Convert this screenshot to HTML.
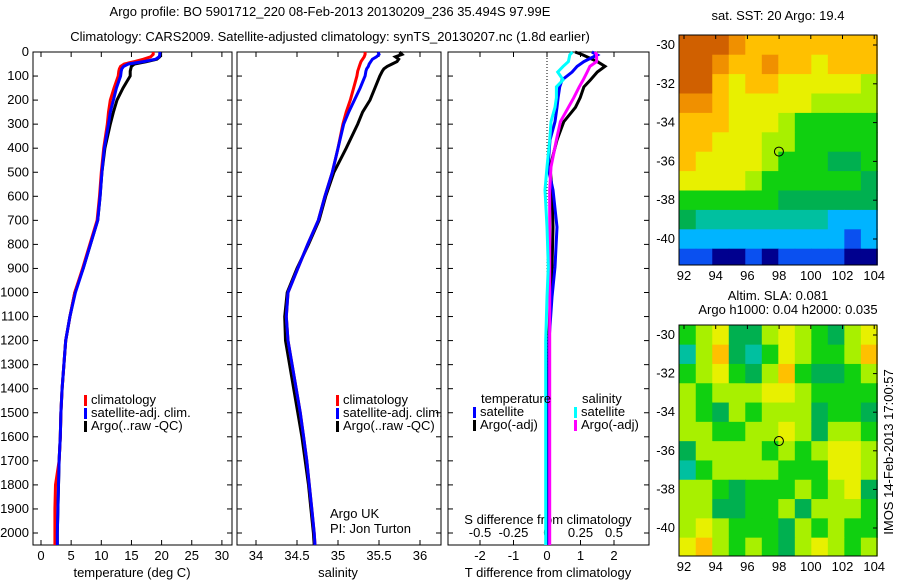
<!DOCTYPE html>
<html><head><meta charset="utf-8"><style>
body{margin:0;background:#fff;width:900px;height:580px;overflow:hidden}
svg{display:block;font-family:"Liberation Sans",sans-serif;font-size:13px}
</style></head><body>
<svg id="c" width="900" height="580" xmlns="http://www.w3.org/2000/svg">
<text x="330" y="16" text-anchor="middle">Argo profile: BO 5901712_220 08-Feb-2013 20130209_236 35.494S 97.99E</text>
<text x="330" y="41" text-anchor="middle">Climatology: CARS2009. Satellite-adjusted climatology: synTS_20130207.nc (1.8d earlier)</text>
</svg>
<script>
const depths=[0,10,20,30,40,50,60,70,80,100,150,200,250,300,400,500,600,700,800,900,1000,1100,1200,1300,1400,1500,1600,1700,1800,1900,2000,2050];
const tClim=[18.6,18.6,18.2,17,15.5,13.8,13.2,13,12.9,12.8,12.1,11.5,11.2,11,10.4,10,9.7,9.3,8.1,6.9,5.6,4.8,4.1,3.8,3.5,3.3,3.2,3.0,2.4,2.3,2.3,2.3];
const tSat=[19.7,19.7,19.6,19,17,14.5,13.7,13.4,13.3,13.2,12.5,12,11.5,11.2,10.5,10.1,9.8,9.4,8.2,7,5.7,4.8,4.1,3.8,3.5,3.3,3.2,3.0,2.9,2.8,2.7,2.7];
const tArgo=[19.8,19.8,19.7,19.2,17.5,15.5,15,14.9,14.8,14.8,13.6,12.6,12,11.5,10.6,10.1,9.8,9.4,8.2,7,5.6,4.8,4.1,3.8,3.5,3.3,3.2,3.0,2.9,2.8,2.7,2.7];
const sClim=[35.33,35.33,35.32,35.3,35.28,35.27,35.26,35.25,35.24,35.23,35.19,35.15,35.1,35.06,35.0,34.93,34.84,34.76,34.63,34.51,34.39,34.37,34.39,34.44,34.49,34.54,34.58,34.62,34.65,34.68,34.71,34.72];
const sSat=[35.49,35.5,35.47,35.42,35.4,35.38,35.37,35.35,35.34,35.33,35.27,35.2,35.13,35.07,35.0,34.93,34.84,34.76,34.63,34.51,34.39,34.37,34.39,34.44,34.49,34.54,34.58,34.62,34.65,34.68,34.71,34.72];
const sArgo=[35.75,35.78,35.7,35.74,35.72,35.66,35.6,35.56,35.54,35.51,35.45,35.39,35.3,35.24,35.1,34.95,34.85,34.77,34.64,34.5,34.38,34.35,34.36,34.41,34.46,34.51,34.56,34.6,34.64,34.67,34.7,34.71];
const dDepths=[0,12,40,60,83,116,145,190,230,290,366,478,574,728,894,1019,1200,1500,1800,2050];
const dTSat=[1.34,1.5,1.1,0.9,0.75,0.45,0.38,0.33,0.3,0.24,0.09,0.03,0.18,0.3,0.24,0.15,0.06,0.05,0.05,0.05];
const dTArgo=[0.84,1.07,1.5,1.73,1.5,1.3,1.1,0.99,0.85,0.5,0.3,0.09,0.15,0.18,0.15,0.1,0.05,0.04,0.04,0.04];
const dSSat=[0.19,0.17,0.16,0.12,0.08,0.12,0.07,0.07,0.06,0.03,0.02,0.0,-0.015,0,0.01,0,-0.01,-0.01,-0.01,-0.01];
const dSArgo=[0.36,0.37,0.37,0.32,0.3,0.27,0.24,0.2,0.16,0.1,0.07,0.03,0.02,0.02,0.02,0.02,0.02,0.02,0.02,0.02];
const depthTicks=[0,100,200,300,400,500,600,700,800,900,1000,1100,1200,1300,1400,1500,1600,1700,1800,1900,2000];
const tTicks=[0,5,10,15,20,25,30];
const sTicks=[34,34.5,35,35.5,36];
const dTTicks=[-2,-1,0,1,2];
const dSTickLabels=["-0.5","-0.25","0","0.25","0.5"];
const dSTicks=[-0.5,-0.25,0,0.25,0.5];
const latTicks=[-30,-32,-34,-36,-38,-40];
const lonTicks=[92,94,96,98,100,102,104];
const sstGrid=[
[10,10,10,9,8,8,8,8,8,8,8,8],[10,10,9,8,8,9,8,8,7,8,8,8],[10,10,8,7,8,8,7,7,7,7,7,6],
[9,9,8,7,7,7,7,7,6,6,6,6],[8,8,8,7,7,7,6,5,5,5,5,5],[8,8,7,7,7,6,6,5,5,5,5,5],
[8,7,7,7,7,6,5,5,5,4,4,5],[7,7,7,7,6,5,5,5,5,5,5,4],[5,5,5,5,5,5,4,4,4,4,4,4],
[4,3,3,3,3,3,3,3,3,2,2,2],[2,2,2,2,2,2,2,2,2,2,1,2],[1,1,0,0,1,0,1,1,1,1,0,0]];
const slaGrid=[
[5,6,7,4,4,6,7,6,5,4,6,7],[3,6,8,4,3,5,7,6,5,5,6,8],[5,6,7,5,4,6,8,5,4,4,5,6],
[6,5,6,6,6,7,7,6,5,5,5,5],[6,5,4,6,5,6,6,6,4,5,5,4],[6,6,5,5,6,6,7,6,4,6,6,5],
[4,6,6,6,6,5,6,5,6,7,7,6],[3,5,6,6,6,6,5,5,5,7,7,6],[6,6,5,4,5,5,5,6,5,6,7,4],
[6,6,4,4,5,5,6,4,6,6,6,5],[6,7,6,5,5,5,4,6,5,6,5,5],[7,8,6,5,6,5,4,6,7,6,5,6]];
const palette=["#00008f","#0a50f0","#00b4ff","#00c0a0","#00b050","#10d010","#a8f000","#e8f000","#ffc000","#f09000","#d06000"];

const svg=document.getElementById('c');const NS="http://www.w3.org/2000/svg";
function mk(t,a,p){const e=document.createElementNS(NS,t);for(const k in a)e.setAttribute(k,a[k]);(p||svg).appendChild(e);return e;}
const Y=d=>52+0.2405*d;
function panel(x0,x1,name){const g=mk('g',{});
 mk('rect',{x:x0,y:52,width:x1-x0,height:493,fill:'none',stroke:'#000'},g);return g;}
function line(g,xs,ds,X,col,name){let p=xs.map((v,i)=>(i?'L':'M')+X(v).toFixed(1)+','+Y(ds[i]).toFixed(1)).join('');
 const e=mk('path',{d:p,fill:'none',stroke:col,'stroke-width':3},g);}
function yTicks(g,x0,x1,labels){depthTicks.forEach(d=>{mk('line',{x1:x0,x2:x0+5,y1:Y(d),y2:Y(d),stroke:'#000'},g);mk('line',{x1:x1,x2:x1-5,y1:Y(d),y2:Y(d),stroke:'#000'},g);
 if(labels){const t=mk('text',{x:x0-4,y:Y(d)+4,'text-anchor':'end'},g);t.textContent=d;}});}
function xTicks(g,ticks,X,labs,yl){ticks.forEach((v,i)=>{mk('line',{x1:X(v),x2:X(v),y1:545,y2:540,stroke:'#000'},g);mk('line',{x1:X(v),x2:X(v),y1:52,y2:57,stroke:'#000'},g);
 const t=mk('text',{x:X(v),y:yl,'text-anchor':'middle'},g);t.textContent=labs?labs[i]:v;});}
function legend(g,x,y,items){items.forEach((it,i)=>{mk('rect',{x:x,y:y+i*13-9,width:3,height:11,fill:it[0]},g);const t=mk('text',{x:x+7,y:y+i*13},g);t.textContent=it[1];});}
function txt(g,x,y,s,a,name){const t=mk('text',{x:x,y:y,'text-anchor':a||'start'},g);t.textContent=s;if(name){}return t;}

const XT=v=>41+6.03*v;let g=panel(33,232,'temperature-panel');yTicks(g,33,232,true);xTicks(g,tTicks,XT,null,560);
txt(g,132,577,'temperature (deg C)','middle','x-axis-title-temperature');
line(g,tArgo,depths,XT,'#000','argo-temperature-line');line(g,tClim,depths,XT,'#f00','clim-temperature-line');line(g,tSat,depths,XT,'#00f','satellite-temperature-line');
legend(g,84,404,[['#f00','climatology'],['#00f','satellite-adj. clim.'],['#000','Argo(..raw -QC)']]);
const XS=v=>256+82*(v-34);g=panel(237,441,'salinity-panel');yTicks(g,237,441,false);xTicks(g,sTicks,XS,null,560);
txt(g,338,577,'salinity','middle','x-axis-title-salinity');
line(g,sArgo,depths,XS,'#000','argo-salinity-line');line(g,sClim,depths,XS,'#f00','clim-salinity-line');line(g,sSat,depths,XS,'#00f','satellite-salinity-line');
legend(g,336,404,[['#f00','climatology'],['#00f','satellite-adj. clim.'],['#000','Argo(..raw -QC)']]);
txt(g,330,518,'Argo UK');txt(g,330,533,'PI: Jon Turton');
const XD=v=>547+33.5*v,XDS=v=>547+134*v;g=panel(448,649,'difference-panel');yTicks(g,448,649,false);
dTTicks.forEach(v=>{mk('line',{x1:XD(v),x2:XD(v),y1:545,y2:540,stroke:'#000'},g);mk('line',{x1:XD(v),x2:XD(v),y1:52,y2:57,stroke:'#000'},g);txt(g,XD(v),560,String(v),'middle');});
dSTicks.forEach((v,i)=>txt(g,XDS(v),537,dSTickLabels[i],'middle'));
mk('line',{x1:547,x2:547,y1:52,y2:545,stroke:'#000','stroke-dasharray':'1,2'},g);
txt(g,548,577,'T difference from climatology','middle','x-axis-title-t-difference');txt(g,548,524,'S difference from climatology','middle','x-axis-title-s-difference');
line(g,dTArgo,dDepths,XD,'#000','argo-t-diff-line');line(g,dTSat,dDepths,XD,'#00f','satellite-t-diff-line');
line(g,dSArgo,dDepths,XDS,'#f0f','argo-s-diff-line');line(g,dSSat,dDepths,XDS,'#0ff','satellite-s-diff-line');
txt(g,481,403,'temperature');txt(g,582,403,'salinity');
legend(g,473,416,[['#00f','satellite'],['#000','Argo(-adj)']]);legend(g,574,416,[['#0ff','satellite'],['#f0f','Argo(-adj)']]);
function map(grid,y0,y1,lat30,lat40,name){const g=mk('g',{});
 const LX=v=>684+15.85*(v-92),LY=v=>lat30+(lat40-lat30)*(-30-v)/10;
 const lon0=91.7,lon1=104.2,latT=-29.5,latB=-41.5;const nr=grid.length,nc=grid[0].length;
 grid.forEach((row,r)=>row.forEach((c,k)=>{const xa=LX(lon0+(lon1-lon0)*k/nc),xb=LX(lon0+(lon1-lon0)*(k+1)/nc);
  const ya=LY(latT+(latB-latT)*r/nr),yb=LY(latT+(latB-latT)*(r+1)/nr);
  const cell=mk('rect',{x:xa,y:Math.max(y0,ya),width:xb-xa+0.5,height:Math.min(y1,yb)-Math.max(y0,ya)+0.5,fill:palette[c]},g);
  }));
 mk('rect',{x:679,y:y0,width:198,height:y1-y0,fill:'none',stroke:'#000'},g);
 latTicks.forEach(v=>{mk('line',{x1:877,x2:873,y1:LY(v),y2:LY(v),stroke:'#000'},g);txt(g,675,LY(v)+4,String(v),'end');});
 lonTicks.forEach(v=>{mk('line',{x1:LX(v),x2:LX(v),y1:y0,y2:y0+4,stroke:'#000'},g);txt(g,LX(v),y1+15,String(v),'middle');});
 mk('circle',{cx:LX(97.99),cy:LY(-35.494),r:4.5,fill:'none',stroke:'#000'},g);}
map(sstGrid,35,265,45,239,'sst-map');
map(slaGrid,325,556,335,528,'sla-map');
txt(svg,778,20,'sat. SST: 20 Argo: 19.4','middle','sst-map-title');
txt(svg,778,300,'Altim. SLA: 0.081','middle','sla-map-title');
txt(svg,788,314,'Argo h1000: 0.04 h2000: 0.035','middle','sla-map-subtitle');
const v=txt(svg,0,0,'IMOS 14-Feb-2013 17:00:57','middle','timestamp');v.setAttribute('transform','translate(893,452) rotate(-90)');
</script>
</body></html>
